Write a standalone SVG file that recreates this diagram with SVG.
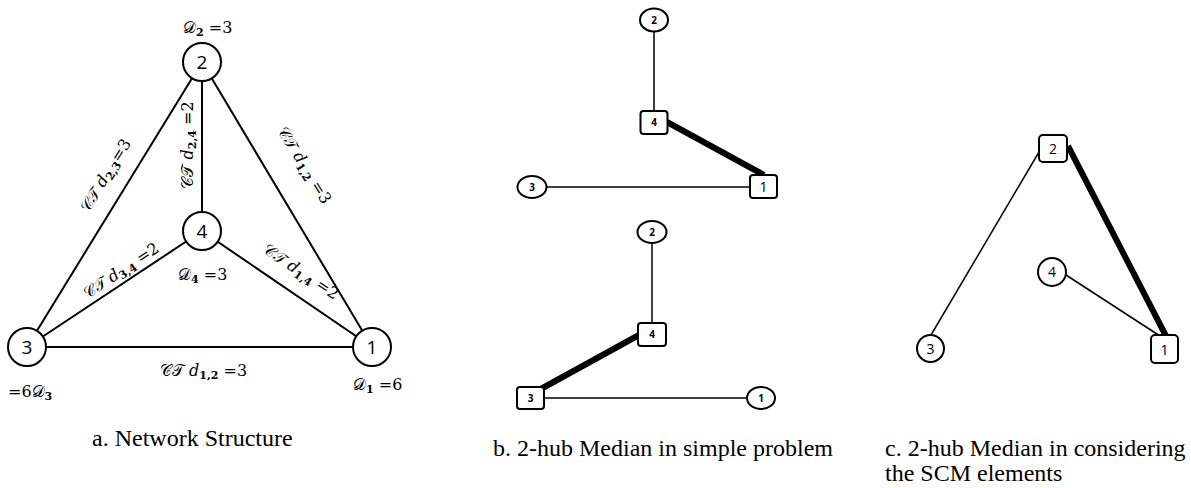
<svg xmlns="http://www.w3.org/2000/svg" width="1191" height="488" viewBox="0 0 1191 488">
<style>
.bg{fill:#fff}
.e{stroke:#000;stroke-width:2;fill:none;stroke-linecap:round}
.t{stroke:#000;stroke-width:1.5;fill:none}
.k{stroke:#000;stroke-width:6;fill:none}
.na{fill:#fff;stroke:#000;stroke-width:2}
.nb{fill:#fff;stroke:#000;stroke-width:2}
.la{font-family:"Open Sans","DejaVu Sans",sans-serif;font-size:19px;text-anchor:middle;fill:#000}
.lb{font-family:"Open Sans","DejaVu Sans",sans-serif;font-size:10px;font-weight:bold;text-anchor:middle;fill:#000}
.lc{font-family:"Open Sans","DejaVu Sans",sans-serif;font-size:14px;text-anchor:middle;fill:#000}
.m{font-family:"DejaVu Serif","Liberation Serif",serif;font-size:16px;fill:#000}
.s{font-size:11px}
.cap{font-family:"Liberation Serif","Times New Roman",serif;font-size:24px;fill:#000}
</style>
<rect class="bg" x="0" y="0" width="1191" height="488"/>
<g id="connectors">
<line class="e" x1="202" y1="62" x2="27" y2="347"/>
<line class="e" x1="202" y1="62" x2="372" y2="347"/>
<line class="e" x1="202" y1="62" x2="202" y2="231"/>
<line class="e" x1="27" y1="347" x2="202" y2="231"/>
<line class="e" x1="372" y1="347" x2="202" y2="231"/>
<line class="e" x1="27" y1="347" x2="372" y2="347"/>
<line class="t" x1="654" y1="31" x2="654" y2="111"/>
<line class="k" x1="667" y1="122" x2="764" y2="175"/>
<line class="t" x1="547" y1="187" x2="750" y2="187"/>
<line class="t" x1="652" y1="243" x2="652" y2="323"/>
<line class="k" x1="639" y1="335" x2="539" y2="390"/>
<line class="t" x1="544" y1="398" x2="747" y2="398"/>
<line class="t" x1="1039" y1="152" x2="931" y2="335"/>
<line class="k" x1="1068" y1="146" x2="1166" y2="336"/>
<line class="t" x1="1066" y1="275" x2="1160" y2="336"/>
</g>
<g id="a-node-2"><circle class="na" cx="202" cy="62" r="19"/><text class="la" x="202" y="69">2</text></g>
<g id="a-node-4"><circle class="na" cx="202" cy="231" r="19"/><text class="la" x="202" y="238">4</text></g>
<g id="a-node-3"><circle class="na" cx="27" cy="347" r="19"/><text class="la" x="27" y="354">3</text></g>
<g id="a-node-1"><circle class="na" cx="372" cy="347" r="19"/><text class="la" x="372" y="354">1</text></g>
<g id="a-labels">
<text class="m" x="183" y="33">𝒟<tspan class="s" dy="3" font-weight="bold">2</tspan><tspan dy="-3"> =3</tspan></text>
<text class="m" x="178" y="280">𝒟<tspan class="s" dy="3" font-weight="bold">4</tspan><tspan dy="-3"> =3</tspan></text>
<text class="m" x="353" y="390">𝒟<tspan class="s" dy="3" font-weight="bold">1</tspan><tspan dy="-3"> =6</tspan></text>
<text class="m" x="8" y="397">=6𝒟<tspan class="s" dy="3" font-weight="bold">3</tspan></text>
<text class="m" x="160" y="376">𝒞𝒯 𝑑<tspan class="s" dy="3" font-weight="bold">1,2</tspan><tspan dy="-3"> =3</tspan></text>
<text class="m" text-anchor="middle" transform="translate(193 145) rotate(-90)">𝒞𝒯 𝑑<tspan class="s" dy="3" font-weight="bold">2,4</tspan><tspan dy="-3"> =2</tspan></text>
<text class="m" text-anchor="middle" transform="translate(110 178) rotate(-58.4)">𝒞𝒯 𝑑<tspan class="s" dy="3" font-weight="bold">2,3</tspan><tspan dy="-3">=3</tspan></text>
<text class="m" text-anchor="middle" transform="translate(300 168) rotate(58.4)">𝒞𝒯 𝑑<tspan class="s" dy="3" font-weight="bold">1,2</tspan><tspan dy="-3"> =3</tspan></text>
<text class="m" text-anchor="middle" transform="translate(124 275) rotate(-33.5)">𝒞𝒯 𝑑<tspan class="s" dy="3" font-weight="bold">3,4</tspan><tspan dy="-3"> =2</tspan></text>
<text class="m" text-anchor="middle" transform="translate(298 276) rotate(33.5)">𝒞𝒯 𝑑<tspan class="s" dy="3" font-weight="bold">1,4</tspan><tspan dy="-3"> =2</tspan></text>
</g>
<g id="b1-node-2"><ellipse class="nb" cx="654" cy="20" rx="14" ry="11.5"/><text class="lb" x="654" y="24">2</text></g>
<g id="b1-node-4"><rect class="nb" x="640.5" y="111" width="27" height="23" rx="3"/><text class="lb" x="654" y="126">4</text></g>
<g id="b1-node-1"><rect class="nb" x="750" y="175" width="27" height="23" rx="3"/><text class="lc" x="763.5" y="192" font-size="11">1</text></g>
<g id="b1-node-3"><ellipse class="nb" cx="532" cy="187" rx="14.5" ry="11"/><text class="lb" x="532" y="191">3</text></g>
<g id="b2-node-2"><ellipse class="nb" cx="652" cy="232" rx="14.5" ry="11"/><text class="lb" x="652" y="236">2</text></g>
<g id="b2-node-4"><rect class="nb" x="638" y="323" width="28" height="23" rx="3"/><text class="lb" x="652" y="338">4</text></g>
<g id="b2-node-3"><rect class="nb" x="517" y="387" width="27" height="22" rx="3"/><text class="lb" x="530.5" y="402">3</text></g>
<g id="b2-node-1"><ellipse class="nb" cx="761" cy="398" rx="14" ry="11"/><text class="lb" x="761" y="402">1</text></g>
<g id="c-node-2"><rect class="nb" x="1039" y="135" width="28" height="27" rx="4"/><text class="lc" x="1053" y="154">2</text></g>
<g id="c-node-4"><circle class="nb" cx="1052" cy="272" r="14"/><text class="lc" x="1052" y="277">4</text></g>
<g id="c-node-3"><circle class="nb" cx="930.5" cy="348.5" r="13.5"/><text class="lc" x="930.5" y="354">3</text></g>
<g id="c-node-1"><rect class="nb" x="1151" y="335" width="27" height="28" rx="4"/><text class="lc" x="1164.5" y="355">1</text></g>
<g id="captions">
<text class="cap" x="92" y="446">a. Network Structure</text>
<text class="cap" x="493" y="456">b. 2-hub Median in simple problem</text>
<text class="cap" x="885" y="456">c. 2-hub Median in considering</text>
<text class="cap" x="885" y="481">the SCM elements</text>
</g>
</svg>
